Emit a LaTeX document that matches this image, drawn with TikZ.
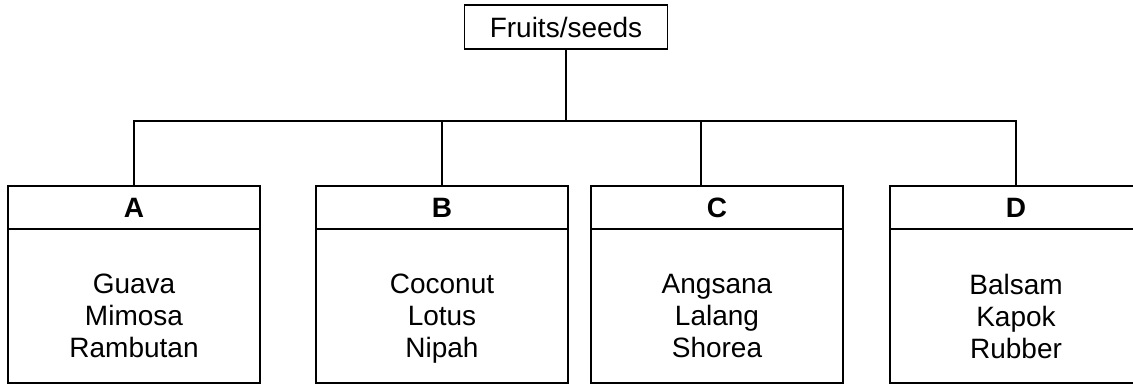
\documentclass[tikz,border=0pt]{standalone}
\usepackage{fontspec}
\setmainfont{Liberation Sans}
\usetikzlibrary{positioning}

\begin{document}
\begin{tikzpicture}[
    x = 1pt, y = 1pt,
    every node/.style = {font=\fontsize{28}{32}\selectfont, text=black, outer sep=0pt},
    root/.style = {draw, line width=1.5pt, minimum width=203pt,
      minimum height=44pt, inner sep=0pt},
    head/.style = {draw, line width=1.5pt, minimum width=252pt,
      minimum height=43pt, inner sep=0pt,
      font=\fontsize{28}{32}\selectfont\bfseries},
    body/.style = {draw, line width=1.5pt, minimum width=252pt,
      minimum height=154pt, inner sep=0pt},
    list/.style = {align=center, inner sep=0pt},
    link/.style = {draw, line width=1.7pt}]
  \useasboundingbox (0,0) rectangle (1133,-385);

  \node (root) [root] at (566,-27) {Fruits/seeds};

  \node (A) [head] at (134,-207.5) {A};
  \node (B) [head, right = 56pt of A] {B};
  \node (C) [head, right = 23pt of B] {C};
  \node (D) [head, right = 47pt of C] {D};

  \node (Abody) [body, below = 0pt of A] {};
  \node (Bbody) [body, below = 0pt of B] {};
  \node (Cbody) [body, below = 0pt of C] {};
  \node (Dbody) [body, below = 0pt of D] {};

  \node (Alist) [list, below = 45pt of A] {Guava\\Mimosa\\Rambutan};
  \node (Blist) [list, below = 45pt of B] {Coconut\\Lotus\\Nipah};
  \node (Clist) [list, below = 45pt of C] {Angsana\\Lalang\\Shorea};
  \node (Dlist) [list, below = 45pt of D] {Balsam\\Kapok\\Rubber};

  \coordinate (bus) at ([yshift=-72pt]root.south);
  \draw [link] (root) -- (bus);
  \draw [link] (A.north) |- (bus) -| (D.north);
  \draw [link] (B.north) -- (B.north |- bus);
  \draw [link] ([xshift=-16pt]C.north) -- ([xshift=-16pt]C.north |- bus);
\end{tikzpicture}
\end{document}
